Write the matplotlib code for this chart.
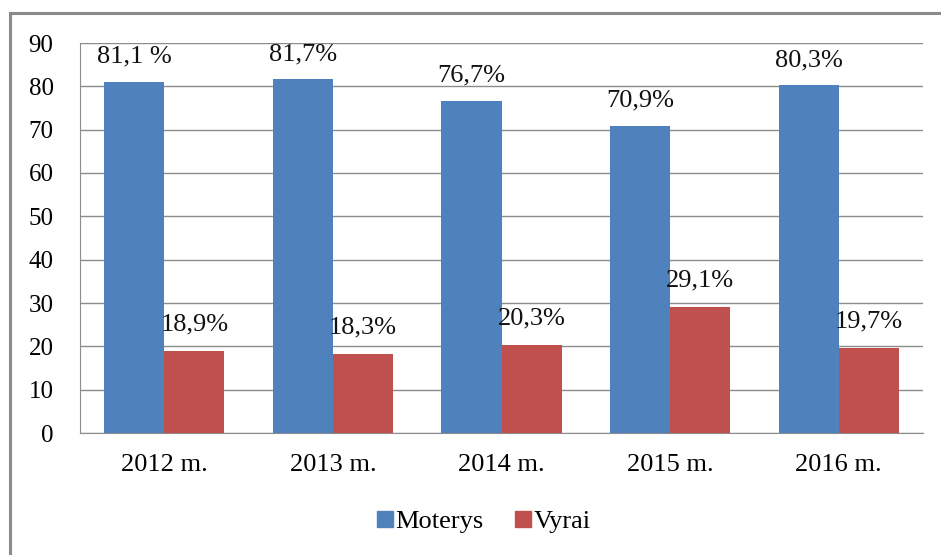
import matplotlib
matplotlib.use("Agg")
import matplotlib.pyplot as plt
import numpy as np
from matplotlib.lines import Line2D

categories = ["2012 m.", "2013 m.", "2014 m.", "2015 m.", "2016 m."]
moterys = [81.1, 81.7, 76.7, 70.9, 80.3]
vyrai = [18.9, 18.3, 20.3, 29.1, 19.7]
moterys_labels = ["81,1 %", "81,7%", "76,7%", "70,9%", "80,3%"]
vyrai_labels = ["18,9%", "18,3%", "20,3%", "29,1%", "19,7%"]
series_names = ["Moterys", "Vyrai"]

plt.rcParams['font.family'] = ['Liberation Serif', 'DejaVu Serif']

W, H = 941, 555
fig = plt.figure(figsize=(W/100, H/100), dpi=100)
ax = fig.add_axes([80/W, 1-433/H, (923-80)/W, (433-43)/H])

blue = "#4F81BD"
red = "#C0504D"
x = np.arange(len(categories))
bw = 0.357
b1 = ax.bar(x - bw/2, moterys, bw, color=blue, label=series_names[0], zorder=3)
b2 = ax.bar(x + bw/2, vyrai, bw, color=red, label=series_names[1], zorder=3)

for rect, lab in zip(b1, moterys_labels):
    ax.annotate(lab, (rect.get_x() + rect.get_width()/2, rect.get_height()),
                xytext=(0, 18), textcoords="offset points", ha="center", va="center",
                fontsize=19, color="#111111")
for rect, lab in zip(b2, vyrai_labels):
    ax.annotate(lab, (rect.get_x() + rect.get_width()/2, rect.get_height()),
                xytext=(0, 19), textcoords="offset points", ha="center", va="center",
                fontsize=19, color="#111111")

ax.set_xlim(-0.5, len(categories) - 0.5)
ax.set_ylim(0, 90)
ax.set_yticks(np.arange(0, 91, 10))
ax.set_xticks(x)
ax.set_xticklabels(categories)
ax.tick_params(axis='y', length=0, pad=19, labelsize=18)
ax.tick_params(axis='x', length=0, pad=15, labelsize=19)
ax.grid(axis='y', color="#8c8c8c", linewidth=1.0, zorder=0)
for s in ["top", "right"]:
    ax.spines[s].set_visible(False)
ax.spines["left"].set_color("#8c8c8c")
ax.spines["bottom"].set_color("#8c8c8c")

handles = [plt.Rectangle((0, 0), 1, 1, color=blue), plt.Rectangle((0, 0), 1, 1, color=red)]
fig.legend(handles, series_names, loc="center", bbox_to_anchor=(484/W, 1-522/H),
           ncol=2, frameon=False, fontsize=19, handlelength=0.6, handleheight=0.6,
           handletextpad=0.1, columnspacing=1.2)

# outer chart border (extends beyond the image at right/bottom)
fig.add_artist(Line2D([10/W, 1.0], [1-13/H, 1-13/H], color="#8a8a8a", linewidth=2.2))
fig.add_artist(Line2D([10/W, 10/W], [1-13/H, 0.0], color="#8a8a8a", linewidth=2.2))

fig.savefig("out.png", dpi=100)
